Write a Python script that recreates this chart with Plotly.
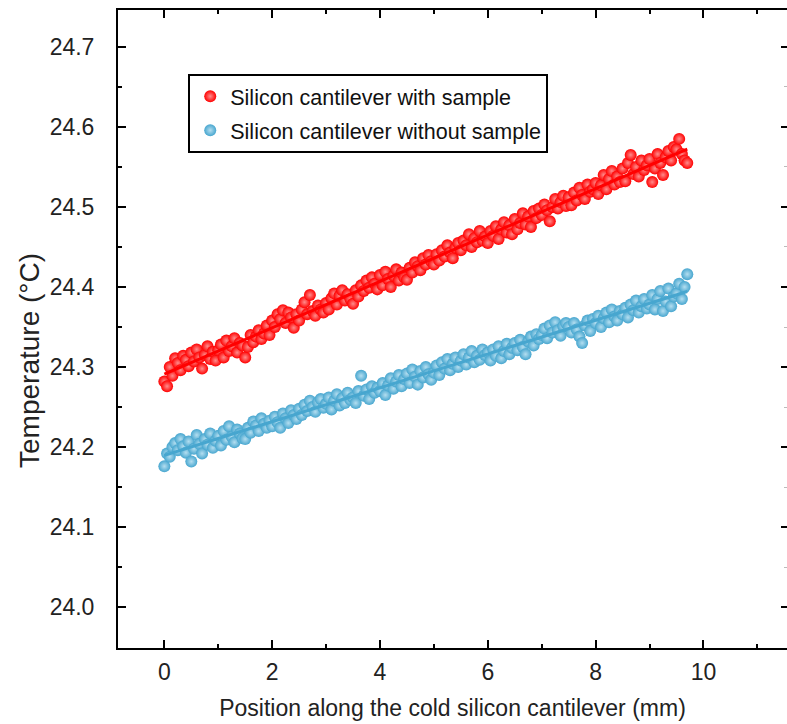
import plotly.graph_objects as go
import numpy as np

# Sampling positions along the cantilever (mm), 0.05 mm spacing
position = [round(i * 0.05, 2) for i in range(195)]

with_sample = [
    24.282, 24.276, 24.300, 24.289, 24.311, 24.305, 24.296, 24.314, 24.309, 24.301,
    24.318, 24.307, 24.322, 24.312, 24.298, 24.315, 24.326, 24.310, 24.319, 24.308,
    24.321, 24.328, 24.312, 24.333, 24.320, 24.326, 24.336, 24.318, 24.330, 24.327,
    24.312, 24.325, 24.340, 24.331, 24.338, 24.346, 24.335, 24.342, 24.352, 24.340,
    24.358, 24.350, 24.366, 24.360, 24.371, 24.355, 24.368, 24.362, 24.349, 24.366,
    24.358, 24.372, 24.381, 24.366, 24.390, 24.370, 24.364, 24.377, 24.372, 24.368,
    24.380, 24.372, 24.386, 24.392, 24.378, 24.389, 24.396, 24.383, 24.391, 24.385,
    24.379, 24.396, 24.388, 24.402, 24.395, 24.408, 24.399, 24.412, 24.404, 24.397,
    24.415, 24.402, 24.419, 24.410, 24.400, 24.414, 24.422, 24.408, 24.418, 24.412,
    24.409, 24.424, 24.418, 24.431, 24.426, 24.421, 24.436, 24.428, 24.440, 24.432,
    24.428, 24.441, 24.433, 24.446, 24.438, 24.452, 24.443, 24.436, 24.449, 24.455,
    24.446, 24.458, 24.452, 24.466, 24.450, 24.461, 24.456, 24.470, 24.458, 24.463,
    24.455, 24.470, 24.464, 24.476, 24.460, 24.472, 24.481, 24.468, 24.477, 24.466,
    24.485, 24.472, 24.480, 24.492, 24.478, 24.488, 24.475, 24.495, 24.486, 24.498,
    24.490, 24.503, 24.496, 24.482, 24.500, 24.510, 24.498, 24.506, 24.514, 24.501,
    24.512, 24.502, 24.518, 24.508, 24.524, 24.515, 24.510, 24.528, 24.519, 24.522,
    24.530, 24.516, 24.527, 24.540, 24.522, 24.535, 24.545, 24.528, 24.538, 24.531,
    24.548, 24.532, 24.555, 24.565, 24.541, 24.550, 24.538, 24.558, 24.546, 24.552,
    24.560, 24.531, 24.548, 24.566, 24.555, 24.540, 24.562, 24.570, 24.558, 24.575,
    24.572, 24.585, 24.566, 24.558, 24.555,
]

without_sample = [
    24.176, 24.192, 24.188, 24.200, 24.205, 24.196, 24.210, 24.201, 24.193, 24.207,
    24.182, 24.198, 24.215, 24.204, 24.192, 24.210, 24.203, 24.217, 24.199, 24.208,
    24.214, 24.202, 24.220, 24.209, 24.226, 24.213, 24.206, 24.222, 24.217, 24.211,
    24.210, 24.224, 24.218, 24.232, 24.227, 24.220, 24.236, 24.229, 24.224, 24.233,
    24.226, 24.238, 24.231, 24.224, 24.242, 24.236, 24.230, 24.246, 24.240, 24.235,
    24.248, 24.240, 24.253, 24.245, 24.258, 24.250, 24.244, 24.256, 24.260, 24.249,
    24.254, 24.262, 24.247, 24.258, 24.266, 24.252, 24.261, 24.255, 24.268, 24.259,
    24.262, 24.255, 24.270, 24.289, 24.264, 24.272, 24.260, 24.276, 24.268, 24.274,
    24.270, 24.280, 24.265, 24.277, 24.286, 24.273, 24.282, 24.290, 24.276, 24.285,
    24.292, 24.280, 24.297, 24.288, 24.278, 24.295, 24.287, 24.300, 24.291, 24.284,
    24.293, 24.302, 24.290, 24.306, 24.298, 24.310, 24.296, 24.304, 24.312, 24.300,
    24.308, 24.316, 24.303, 24.312, 24.320, 24.306, 24.314, 24.309, 24.322, 24.315,
    24.318, 24.308, 24.322, 24.314, 24.326, 24.311, 24.320, 24.329, 24.316, 24.324,
    24.330, 24.321, 24.334, 24.325, 24.316, 24.332, 24.338, 24.327, 24.341, 24.335,
    24.340, 24.348, 24.336, 24.352, 24.343, 24.356, 24.346, 24.339, 24.351, 24.355,
    24.350, 24.343, 24.355, 24.347, 24.338, 24.330, 24.352, 24.358, 24.345, 24.360,
    24.355, 24.364, 24.350, 24.361, 24.368, 24.356, 24.372, 24.363, 24.358, 24.370,
    24.366, 24.374, 24.362, 24.378, 24.371, 24.383, 24.368, 24.376, 24.385, 24.373,
    24.378, 24.390, 24.372, 24.385, 24.395, 24.370, 24.382, 24.398, 24.376, 24.388,
    24.392, 24.404, 24.385, 24.400, 24.416,
]

series_names = ["Silicon cantilever with sample", "Silicon cantilever without sample"]
x_tick_vals = [0, 2, 4, 6, 8, 10]
y_tick_vals = [24.0, 24.1, 24.2, 24.3, 24.4, 24.5, 24.6, 24.7]
y_tick_text = ["24.0", "24.1", "24.2", "24.3", "24.4", "24.5", "24.6", "24.7"]

RED = "#ff0000"
BLUE = "#47a6cf"
FONT = "Liberation Sans, Arial, sans-serif"
Y_RANGE = [23.949, 24.746]
X_RANGE = [-0.86, 11.55]

fig = go.Figure()

x_arr = np.array(position)
for vals, name, col, center, grp in [
    (with_sample, series_names[0], RED, "#ff8c8c", "a"),
    (without_sample, series_names[1], BLUE, "#b4def0", "b"),
]:
    y_arr = np.array(vals)
    fig.add_trace(go.Scatter(
        x=position, y=vals, mode="markers", name=name,
        legendgroup=grp,
        marker=dict(size=12, color=col, line=dict(width=0),
                    gradient=dict(type="radial", color=center)),
    ))
    k, b = np.polyfit(x_arr, y_arr, 1)
    xf = [position[0], position[-1]]
    fig.add_trace(go.Scatter(
        x=xf, y=[k * v + b for v in xf], mode="lines",
        line=dict(color=col, width=3), showlegend=False, hoverinfo="skip",
    ))

# right-side ticks without visible axis line
fig.add_trace(go.Scatter(x=[None], y=[None], yaxis="y2", showlegend=False))

axis_common = dict(
    ticks="inside", ticklen=8, tickwidth=2, tickcolor="black",
    showline=True, linecolor="black", linewidth=2, showgrid=False, zeroline=False,
    tickfont=dict(family=FONT, size=23, color="#222222"),
    automargin=False,
)

fig.update_layout(
    width=787, height=724,
    margin=dict(l=118, r=0, t=10, b=76),
    paper_bgcolor="white", plot_bgcolor="white",
    showlegend=True,
    legend=dict(
        x=0.105, y=0.9, xanchor="left", yanchor="top",
        bordercolor="black", borderwidth=2, bgcolor="white",
        font=dict(family=FONT, size=21.5, color="#111111"),
        tracegroupgap=3, traceorder="grouped",
    ),
    xaxis=dict(
        range=X_RANGE, tickvals=x_tick_vals, mirror="ticks",
        minor=dict(ticks="inside", ticklen=4, tickwidth=2, tickcolor="black", dtick=1, tick0=0),
        title=dict(text="Position along the cold silicon cantilever (mm)",
                   font=dict(family=FONT, size=23, color="#222222"), standoff=16),
        ticklabelstandoff=2,
        **axis_common,
    ),
    yaxis=dict(
        range=Y_RANGE, tickvals=y_tick_vals, ticktext=y_tick_text,
        minor=dict(ticks="inside", ticklen=4, tickwidth=2, tickcolor="black", dtick=0.05, tick0=24.0),
        ticklabelstandoff=17,
        **axis_common,
    ),
    yaxis2=dict(
        overlaying="y", side="right", matches="y", showline=False,
        range=Y_RANGE, tickvals=y_tick_vals, showticklabels=False,
        ticks="inside", ticklen=6, tickwidth=2, tickcolor="black",
        showgrid=False, zeroline=False, automargin=False,
        minor=dict(ticks="inside", ticklen=3, tickwidth=1, tickcolor="#bbbbbb", dtick=0.05, tick0=24.0),
    ),
    annotations=[dict(
        text="Temperature (°C)", textangle=-90, showarrow=False,
        xref="paper", yref="paper", x=-0.132, y=0.451, xanchor="center", yanchor="middle",
        font=dict(family=FONT, size=28, color="#222222"),
    )],
)

fig.write_html(
    "out.html",
    config={"displayModeBar": False},
    post_script="document.body.style.margin='0';document.body.style.overflow='hidden';",
)
